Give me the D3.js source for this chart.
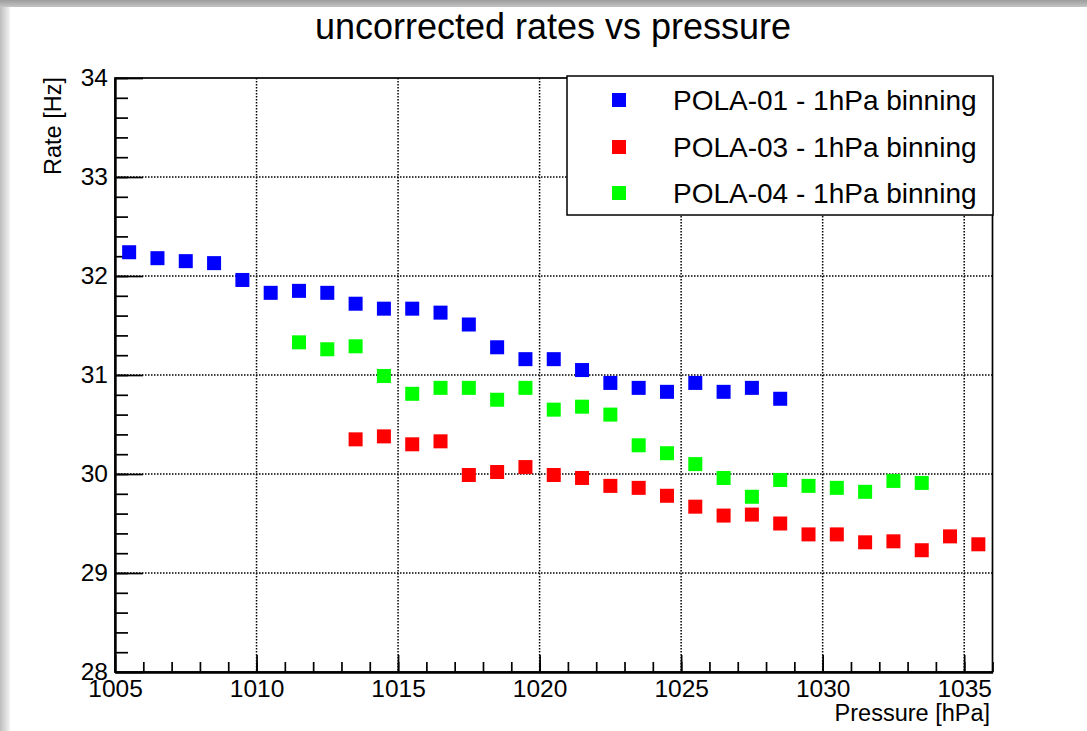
<!DOCTYPE html>
<html>
<head>
<meta charset="utf-8">
<script src="https://cdn.jsdelivr.net/npm/d3@7"></script>
<style>
body { margin:0; background:#fff; }
text { font-family: "Liberation Sans", Arial, Helvetica, sans-serif; fill:#000; }
</style>
</head>
<body>
<div id="chart"></div>
<script>
// bin centres (hPa) and rates (Hz) per detector
var pola01_p = [1005.5,1006.5,1007.5,1008.5,1009.5,1010.5,1011.5,1012.5,1013.5,1014.5,1015.5,1016.5,
	1017.5,1018.5,1019.5,1020.5,1021.5,1022.5,1023.5,1024.5,1025.5,1026.5,1027.5,1028.5]
var pola01_r = [32.24,32.18,32.15,32.13,31.96,31.83,31.85,31.83,31.72,31.67,31.67,31.63,
	31.51,31.28,31.16,31.16,31.05,30.92,30.87,30.83,30.92,30.83,30.87,30.76]

var pola03_p = [1013.5,1014.5,1015.5,1016.5,1017.5,1018.5,1019.5,1020.5,1021.5,1022.5,1023.5,1024.5,
	1025.5,1026.5,1027.5,1028.5,1029.5,1030.5,1031.5,1032.5,1033.5,1034.5,1035.5]
var pola03_r = [30.35,30.38,30.30,30.33,29.99,30.02,30.07,29.99,29.96,29.88,29.86,29.78,
	29.67,29.58,29.59,29.50,29.39,29.39,29.31,29.32,29.23,29.37,29.29]

var pola04_p = [1011.5,1012.5,1013.5,1014.5,1015.5,1016.5,1017.5,1018.5,1019.5,1020.5,1021.5,1022.5,
	1023.5,1024.5,1025.5,1026.5,1027.5,1028.5,1029.5,1030.5,1031.5,1032.5,1033.5]
var pola04_r = [31.33,31.26,31.29,30.99,30.81,30.87,30.87,30.75,30.87,30.65,30.68,30.60,
	30.29,30.21,30.10,29.96,29.77,29.94,29.88,29.86,29.82,29.93,29.91]

var seriesNames = ["POLA-01 - 1hPa binning","POLA-03 - 1hPa binning","POLA-04 - 1hPa binning"]
var seriesColors = ["#0000ff","#ff0000","#00ff00"]

var xMajor = [1005,1010,1015,1020,1025,1030,1035]
var yMajor = [28,29,30,31,32,33,34]

var W = 1087, H = 731
var pLeft = 115, pRight = 992.5, pTop = 78, pBottom = 672

var xScale = d3.scaleLinear().domain([1005,1036]).range([pLeft,pRight])
var yScale = d3.scaleLinear().domain([28,34]).range([pBottom,pTop])

var svg = d3.select("#chart").append("svg")
	.attr("width",W)
	.attr("height",H)

// window shadow bands
var defs = svg.append("defs")
var gTop = defs.append("linearGradient").attr("id","shTop").attr("x1",0).attr("y1",0).attr("x2",0).attr("y2",1)
gTop.append("stop").attr("offset","0%").attr("stop-color","#9c9c9c")
gTop.append("stop").attr("offset","100%").attr("stop-color","#c4c4c4")
var gLeft = defs.append("linearGradient").attr("id","shLeft").attr("x1",0).attr("y1",0).attr("x2",1).attr("y2",0)
gLeft.append("stop").attr("offset","0%").attr("stop-color","#bdbdbd")
gLeft.append("stop").attr("offset","100%").attr("stop-color","#f4f4f4")

svg.append("rect").attr("x",0).attr("y",0).attr("width",W).attr("height",H).attr("fill","#fff")
svg.append("rect").attr("x",0).attr("y",0).attr("width",10).attr("height",H).attr("fill","url(#shLeft)")
svg.append("rect").attr("x",0).attr("y",0).attr("width",W).attr("height",7).attr("fill","url(#shTop)")

// grid
svg.append("g").selectAll("line")
	.data(xMajor.filter(function(d){return d>1005})).enter()
	.append("line")
	.attr("x1",function(d){return xScale(d)})
	.attr("x2",function(d){return xScale(d)})
	.attr("y1",pTop).attr("y2",pBottom)
	.attr("stroke","#000").attr("stroke-width",1.5).attr("stroke-dasharray","1.5,1.5")

svg.append("g").selectAll("line")
	.data(yMajor.filter(function(d){return d>28 && d<34})).enter()
	.append("line")
	.attr("y1",function(d){return yScale(d)})
	.attr("y2",function(d){return yScale(d)})
	.attr("x1",pLeft).attr("x2",pRight)
	.attr("stroke","#000").attr("stroke-width",1.5).attr("stroke-dasharray","1.5,1.5")

// axes
var xMinor = d3.range(1006,1037,1)
var yMinor = d3.range(28.2,34,0.2)

svg.append("g")
	.attr("transform","translate(0,"+pBottom+")")
	.call(d3.axisBottom(xScale).tickValues(xMinor).tickSize(-10).tickFormat("").tickSizeOuter(0))
svg.append("g")
	.attr("class","xmaj")
	.attr("transform","translate(0,"+pBottom+")")
	.call(d3.axisBottom(xScale).tickValues(xMajor).tickSize(-17).tickPadding(8).tickFormat(d3.format("d")).tickSizeOuter(0))

svg.append("g")
	.attr("transform","translate("+pLeft+",0)")
	.call(d3.axisLeft(yScale).tickValues(yMinor).tickSize(-13).tickFormat("").tickSizeOuter(0))
svg.append("g")
	.attr("class","ymaj")
	.attr("transform","translate("+pLeft+",0)")
	.call(d3.axisLeft(yScale).tickValues(yMajor).tickSize(-28).tickPadding(7).tickFormat(d3.format("d")).tickSizeOuter(0))

svg.selectAll(".tick line").attr("stroke","#000").attr("stroke-width",1.7)
svg.selectAll(".domain").attr("stroke","#000").attr("stroke-width",1.9)
svg.selectAll(".xmaj text, .ymaj text")
	.style("font-family","'Liberation Sans', Arial, sans-serif")
	.style("font-size","24.5px")
	.attr("fill","#000")

// frame
svg.append("rect")
	.attr("x",pLeft).attr("y",pTop)
	.attr("width",pRight-pLeft).attr("height",pBottom-pTop)
	.attr("fill","none").attr("stroke","#000").attr("stroke-width",1.7)

// markers
var allSeries = [
	{p:pola01_p, r:pola01_r},
	{p:pola03_p, r:pola03_r},
	{p:pola04_p, r:pola04_r}
]
var ms = 14
allSeries.forEach(function(s,i){
	svg.append("g").selectAll("rect")
		.data(s.p.map(function(p,j){return {p:p, r:s.r[j]}})).enter()
		.append("rect")
		.attr("x",function(d){return xScale(d.p)-ms/2})
		.attr("y",function(d){return yScale(d.r)-ms/2})
		.attr("width",ms).attr("height",ms)
		.attr("fill",seriesColors[i])
})

// title and axis titles
svg.append("text")
	.attr("x",553).attr("y",39)
	.attr("text-anchor","middle")
	.style("font-size","36px")
	.text("uncorrected rates vs pressure")

svg.append("text")
	.attr("x",990).attr("y",721)
	.attr("text-anchor","end")
	.style("font-size","23.5px")
	.text("Pressure [hPa]")

svg.append("text")
	.attr("transform","translate(61,77) rotate(-90)")
	.attr("text-anchor","end")
	.style("font-size","23.5px")
	.text("Rate [Hz]")

// legend
var leg = svg.append("g")
leg.append("rect")
	.attr("x",567).attr("y",76).attr("width",426).attr("height",139)
	.attr("fill","#fff").attr("stroke","#000").attr("stroke-width",1.5)
var rowsY = [100,147,193]
leg.selectAll("rect.m").data(seriesNames).enter()
	.append("rect").attr("class","m")
	.attr("x",619-7).attr("y",function(d,i){return rowsY[i]-7})
	.attr("width",14).attr("height",14)
	.attr("fill",function(d,i){return seriesColors[i]})
leg.selectAll("text").data(seriesNames).enter()
	.append("text")
	.attr("x",673).attr("y",function(d,i){return rowsY[i]})
	.attr("dy","0.36em")
	.style("font-size","28px")
	.text(function(d){return d})
</script>
</body>
</html>
